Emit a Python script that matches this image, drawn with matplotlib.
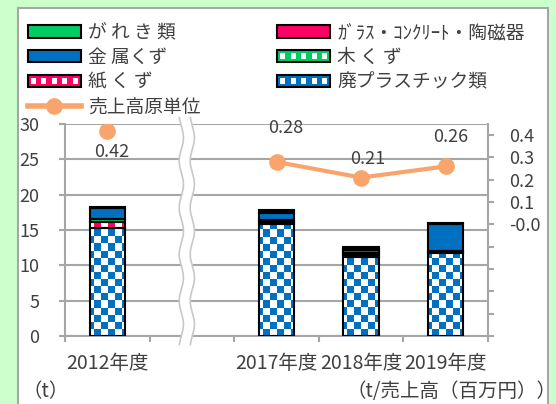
import numpy as np
import matplotlib
matplotlib.use('Agg')
import matplotlib.pyplot as plt
from matplotlib.patches import Rectangle
from matplotlib.legend_handler import HandlerBase
from matplotlib.lines import Line2D
from matplotlib.transforms import blended_transform_factory, Bbox, TransformedBbox

plt.rcParams['font.family'] = ['Noto Sans CJK JP', 'DejaVu Sans']

# ---------------- data ----------------
years = ['2012年度', '', '2017年度', '2018年度', '2019年度']
plastic = [15.3, np.nan, 15.9, 11.2, 11.8]   # 廃プラスチック類
paper = [0.8, np.nan, 0.25, 0.3, 0.1]        # 紙くず
wood = [0.5, np.nan, 0.25, 0.3, 0.1]         # 木くず
metal = [1.5, np.nan, 1.0, 0.3, 3.8]         # 金属くず
glass = [0.0, np.nan, 0.25, 0.25, 0.1]       # ガラス・コンクリート・陶磁器
rubble = [0.1, np.nan, 0.25, 0.25, 0.1]      # がれき類
intensity = [0.42, np.nan, 0.28, 0.21, 0.26]  # 売上高原単位
right_ticks = [-0.5, -0.4, -0.3, -0.2, -0.1, 0.0, 0.1, 0.2, 0.3, 0.4]
right_labels = ['', '', '', '', '', '-0.0', '0.1', '0.2', '0.3', '0.4']
label_offsets = [(4, -21), None, (9, 34), (7, 19), (5, 29)]  # pixel offsets of value labels

BLUE = '#0070c0'
GREEN = '#00cc66'
PINK = '#ff0066'
ORANGE = '#f9a46c'
GRAY = '#a6a6a6'
TXT = '#404040'

W, H = 556, 404
fig = plt.figure(figsize=(W / 100, H / 100), dpi=100, facecolor='#ccffcc')
frame = Rectangle((18 / W, -0.05), 530 / W, 1.05 - 8 / H, transform=fig.transFigure,
                  fc='white', ec=GRAY, lw=1.5, zorder=-5)
fig.add_artist(frame)

ax = fig.add_axes([65 / W, (H - 336) / H, 423 / W, 212 / H])
ax.set_facecolor('white')
x = np.arange(len(years))
valid = np.array([not np.isnan(p) for p in plastic])

# pattern images (cells ~7px over the axes extent)
nx, ny = 60, 30
jj, ii = np.meshgrid(np.arange(nx), np.arange(ny))
def rgb(c):
    return np.array(matplotlib.colors.to_rgb(c))
checker = np.where(((ii + jj) % 2 == 0)[..., None], rgb(BLUE), rgb('white'))
jj2, ii2 = np.meshgrid(np.arange(nx), np.arange(1))
paper_pat = np.where((jj2 % 2 == 0)[..., None], rgb(PINK), rgb('white'))
jj3, ii3 = np.meshgrid(np.arange(nx), np.arange(90))
wood_pat = np.where(((ii3 % 3 == 1) & (jj3 % 2 == 0))[..., None], rgb('white'), rgb(GREEN))

series = [
    (plastic, BLUE, checker),
    (paper, PINK, paper_pat),
    (wood, GREEN, wood_pat),
    (metal, BLUE, None),
    (glass, PINK, None),
    (rubble, GREEN, None),
]

bottom = np.zeros(len(years))
for vals, col, pat in series:
    v = np.nan_to_num(np.array(vals, dtype=float))
    bars = ax.bar(x[valid], v[valid], bottom=bottom[valid], width=0.42,
                  color=col, edgecolor='none', zorder=2)
    if pat is not None:
        for b in bars:
            im = ax.imshow(pat, extent=(-0.5, 4.5, 0, 30), origin='lower',
                           interpolation='nearest', aspect='auto', zorder=2.1)
            im.set_clip_path(b)
    ax.bar(x[valid], v[valid], bottom=bottom[valid], width=0.42,
           fill=False, edgecolor='black', lw=1.5, zorder=3)
    bottom += v

# axis break decoration
trans = blended_transform_factory(ax.transData, ax.transAxes)
yy = np.linspace(-0.04, 1.03, 200)
xc = x[1] - 0.06
wave = 0.025 * np.sin(yy * 2 * np.pi / 0.22)
lft = xc - 0.065 + wave
rgt = xc + 0.065 + wave
ax.fill_betweenx(yy, lft, rgt, transform=trans, color='white', zorder=4, clip_on=False, lw=0)
ax.plot(lft, yy, transform=trans, color='#c8c8c8', lw=1.2, clip_on=False, zorder=4.1)
ax.plot(rgt, yy, transform=trans, color='#c8c8c8', lw=1.2, clip_on=False, zorder=4.1)

# secondary axis
ax2 = ax.twinx()
ax2.plot(x, intensity, color=ORANGE, lw=3, marker='o', ms=11, zorder=5)
ax2.set_ylim(-0.5, 0.45)
ax2.set_yticks(right_ticks)
ax2.set_yticklabels(right_labels)
ax2.tick_params(axis='y', length=4.3, width=1.5, color=GRAY, labelcolor=TXT,
                labelsize=13, pad=11)
for s in ['top', 'left', 'bottom']:
    ax2.spines[s].set_visible(False)
ax2.spines['right'].set_color(GRAY)
ax2.spines['right'].set_linewidth(1.5)
for i in range(len(years)):
    if label_offsets[i] is None or np.isnan(intensity[i]):
        continue
    ax2.annotate(f'{intensity[i]:.2f}', (x[i], intensity[i]), xytext=label_offsets[i],
                 textcoords='offset pixels', ha='center', va='center',
                 fontsize=13, color=TXT)

# primary axis styling (after twinx)
ax.set_xlim(-0.5, 4.5)
ax.set_ylim(0, 30)
ax.set_aspect('auto')
ax.set_yticks(np.arange(0, 31, 5))
ax.yaxis.grid(True, color=GRAY, lw=1.5)
ax.set_axisbelow(True)
ax.set_xticks(x)
ax.set_xticklabels(years, fontsize=14, color=TXT)
ax.set_xticks(np.arange(-0.5, 5, 1), minor=True)
ax.tick_params(axis='x', which='major', length=0, pad=12)
ax.tick_params(axis='x', which='minor', length=4.3, width=1.5, color=GRAY)
ax.tick_params(axis='y', which='major', left=True, labelleft=True, length=4.3,
               width=1.5, color=GRAY, labelcolor=TXT, labelsize=13, pad=14)
for s in ['top', 'right']:
    ax.spines[s].set_visible(False)
for s in ['left', 'bottom']:
    ax.spines[s].set_color(GRAY)
    ax.spines[s].set_linewidth(1.5)

# legend
class SwatchHandler(HandlerBase):
    def __init__(self, color, dots=False):
        super().__init__()
        self.color = color
        self.dots = dots

    def create_artists(self, legend, orig_handle, xdescent, ydescent, width, height, fontsize, trans):
        arts = [Rectangle((-xdescent, -ydescent), width, height, fc=self.color,
                          ec='black', lw=1.5, transform=trans)]
        if self.dots:
            n = 5
            cw = width / (2 * n)
            for k in range(n):
                arts.append(Rectangle((-xdescent + cw * (2 * k + 0.5), -ydescent + height * 0.28),
                                      cw, height * 0.44, fc='white', ec='none', transform=trans))
        return arts

h_rubble = Rectangle((0, 0), 1, 1)
h_metal = Rectangle((0, 0), 1, 1)
h_paper = Rectangle((0, 0), 1, 1)
h_glass = Rectangle((0, 0), 1, 1)
h_wood = Rectangle((0, 0), 1, 1)
h_plastic = Rectangle((0, 0), 1, 1)
h_line = Line2D([], [], color=ORANGE, lw=4, marker='o', ms=11)
hmap = {
    h_rubble: SwatchHandler(GREEN),
    h_metal: SwatchHandler(BLUE),
    h_paper: SwatchHandler(PINK, True),
    h_glass: SwatchHandler(PINK),
    h_wood: SwatchHandler(GREEN, True),
    h_plastic: SwatchHandler(BLUE, True),
}
handles = [h_rubble, h_metal, h_paper, h_line, h_glass, h_wood, h_plastic]
labels = ['が れ き 類', '金 属くず', '紙 く ず', '売上高原単位',
          'ｶﾞﾗｽ・ｺﾝｸﾘｰﾄ・陶磁器', '木 く ず', '廃プラスチック類']
leg = fig.legend(handles, labels, handler_map=hmap, ncol=2, loc='upper left',
                 bbox_to_anchor=(28 / W, 1 - 22 / H), frameon=False, fontsize=13.5,
                 handlelength=2.8, handleheight=0.65, handletextpad=0.4,
                 columnspacing=4.1, labelspacing=0.2, borderpad=0, borderaxespad=0)
clipbox = TransformedBbox(Bbox([[0, 0], [548 / W, 1]]), fig.transFigure)
for t in leg.get_texts():
    t.set_color(TXT)
    t.set_clip_on(True)
    t.set_clip_box(clipbox)

fig.text(22 / W, 1 - 392 / H, '（t）', ha='left', va='center', fontsize=14, color=TXT)
fig.text(556 / W, 1 - 392 / H, '（t/売上高（百万円））', ha='right', va='center',
         fontsize=14, color=TXT)

fig.savefig('out.png', dpi=100, facecolor=fig.get_facecolor())
